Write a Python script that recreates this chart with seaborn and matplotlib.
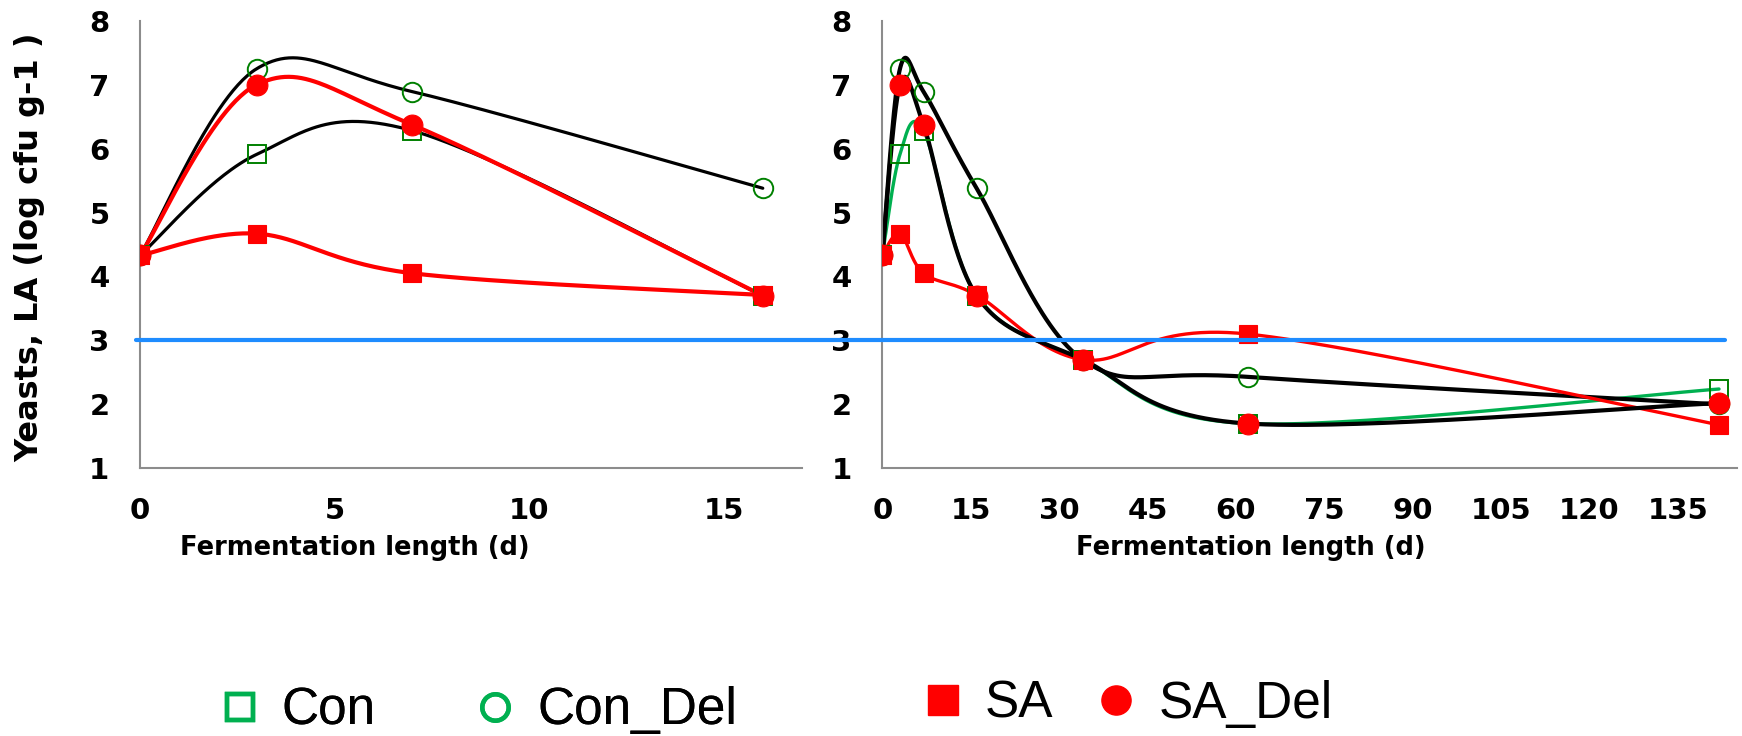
import numpy as np
import matplotlib
matplotlib.use("Agg")
import matplotlib.pyplot as plt
from matplotlib.lines import Line2D
from matplotlib.transforms import blended_transform_factory
import seaborn as sns

# Sampling days and viable yeast counts (log cfu/g) per treatment
days = [0, 3, 7, 16, 34, 62, 142]
con = [4.33, 5.91, 6.28, 3.70, 2.69, 1.70, 2.24]
con_del = [4.33, 7.25, 6.89, 5.38, 2.70, 2.43, 2.00]
sa = [4.33, 4.67, 4.05, 3.71, 2.70, 3.10, 1.68]
sa_del = [4.33, 7.00, 6.37, 3.70, 2.70, 1.70, 2.02]
series_names = ["Con", "Con_Del", "SA", "SA_Del"]

early_points = 4                      # the short-term panel shows the first four days
left_xticks = [0, 5, 10, 15]
right_xticks = list(range(0, 136, 15))
yticks = [1, 2, 3, 4, 5, 6, 7, 8]
detection_limit = 3.0
x_label = "Fermentation length (d)"
y_label = "Yeasts, LA (log cfu g-1 )"

sns.set_theme(style="white")
plt.rcParams["font.family"] = ["DejaVu Sans"]
plt.rcParams["text.color"] = "black"

GREEN_EDGE = "#008000"
GREEN_LINE = "#00B050"
RED = "#FF0000"
BLACK = "#000000"
AXIS_GRAY = "#8C8C8C"

fig = plt.figure(figsize=(17.42, 7.36), dpi=100)
ax_l = fig.add_axes([0.08037, 0.36372, 0.37985, 0.60815])
ax_r = fig.add_axes([0.50649, 0.36372, 0.49047, 0.60815])

ax_l.set_xlim(0, 17)
ax_r.set_xlim(0, 145)
for ax in (ax_l, ax_r):
    ax.set_ylim(1, 8)


def smooth_curve(ax, xs, ys, n=60):
    """Bezier smoothing (Catmull-Rom style) computed in display space."""
    pts = ax.transData.transform(np.column_stack([xs, ys]))
    P = np.vstack([pts[0], pts, pts[-1]])
    t = np.linspace(0, 1, n)[:, None]
    parts = []
    for i in range(1, len(P) - 2):
        p0, p1, p2, p3 = P[i - 1], P[i], P[i + 1], P[i + 2]
        c1 = p1 + (p2 - p0) / 6.0
        c2 = p2 - (p3 - p1) / 6.0
        seg = ((1 - t) ** 3) * p1 + 3 * (1 - t) ** 2 * t * c1 + 3 * (1 - t) * t ** 2 * c2 + t ** 3 * p2
        parts.append(seg if i == 1 else seg[1:])
    d = ax.transData.inverted().transform(np.vstack(parts))
    return d[:, 0], d[:, 1]


def draw_line(ax, xs, ys, color, lw, z):
    sx, sy = smooth_curve(ax, xs, ys)
    sns.lineplot(x=sx, y=sy, ax=ax, sort=False, estimator=None,
                 color=color, lw=lw, zorder=z)


def draw_markers(ax, xs, ys, marker, size, face, edge, mew, z):
    sns.lineplot(x=xs, y=ys, ax=ax, sort=False, estimator=None,
                 linestyle="", marker=marker, markersize=size,
                 mfc=face, mec=edge, mew=mew, color=edge, zorder=z)


values = {"Con": con, "Con_Del": con_del, "SA": sa, "SA_Del": sa_del}

# Short-term panel
n = early_points
line_style_l = {"Con": (BLACK, 2.3), "Con_Del": (BLACK, 2.3),
                "SA": (RED, 3.0), "SA_Del": (RED, 3.0)}
for k, name in enumerate(series_names):
    c, lw = line_style_l[name]
    draw_line(ax_l, days[:n], values[name][:n], c, lw, 2 + k * 0.1)

# Long-term panel
line_style_r = {"Con": (GREEN_LINE, 2.4), "Con_Del": (BLACK, 3.0),
                "SA": (RED, 2.4), "SA_Del": (BLACK, 3.0)}
for k, name in enumerate(series_names):
    c, lw = line_style_r[name]
    draw_line(ax_r, days, values[name], c, lw, 2 + k * 0.1)

marker_style = {
    "Con": ("s", 13, "none", GREEN_EDGE, 1.4),
    "Con_Del": ("o", 14, "none", GREEN_EDGE, 1.4),
    "SA": ("s", 13, RED, RED, 0.8),
    "SA_Del": ("o", 15, RED, RED, 0.8),
}
for ax, cnt in ((ax_l, n), (ax_r, len(days))):
    for k, name in enumerate(series_names):
        m, s, fc, ec, mew = marker_style[name]
        draw_markers(ax, days[:cnt], values[name][:cnt], m, s, fc, ec, mew, 5 + k * 0.1)

# Axes cosmetics
for ax, ticks in ((ax_l, left_xticks), (ax_r, right_xticks)):
    ax.set_xticks(ticks)
    ax.set_yticks(yticks)
    ax.grid(False)
    for side in ("top", "right"):
        ax.spines[side].set_visible(False)
    for side in ("left", "bottom"):
        ax.spines[side].set_color(AXIS_GRAY)
        ax.spines[side].set_linewidth(1.5)
    ax.tick_params(axis="both", direction="out", length=8, width=1.5,
                   color=AXIS_GRAY, labelsize=21, labelcolor="black")
    ax.tick_params(axis="x", pad=13)
    ax.tick_params(axis="y", pad=14)
    for lbl in ax.get_xticklabels() + ax.get_yticklabels():
        lbl.set_fontweight("bold")
    ax.set_xlabel("")
    ax.set_ylabel("")
    ax.patch.set_alpha(0)

fig.text(0.0172, 0.664, y_label, rotation=90, ha="center", va="center",
         fontsize=23, fontweight="bold", color="black")
fig.text(355 / 1742, 1 - 548 / 736, x_label, ha="center", va="center",
         fontsize=18.5, fontweight="bold", color="black")
fig.text(1251 / 1742, 1 - 548 / 736, x_label, ha="center", va="center",
         fontsize=18.5, fontweight="bold", color="black")

# Detection-limit line spanning both panels
trans = blended_transform_factory(fig.transFigure, ax_l.transData)
fig.add_artist(Line2D([136 / 1742, 1725 / 1742], [detection_limit, detection_limit],
                      transform=trans, color="#1E8CFF", lw=3.0, zorder=10))

# Legends
legend_font = {"family": ["Liberation Sans"], "size": 37}
h_con = Line2D([], [], linestyle="", marker="s", markersize=19, mfc="none",
               mec=GREEN_LINE, mew=3.2)
h_con_del = Line2D([], [], linestyle="", marker="o", markersize=19, mfc="none",
                   mec=GREEN_LINE, mew=3.2)
h_sa = Line2D([], [], linestyle="", marker="s", markersize=21, mfc=RED, mec=RED)
h_sa_del = Line2D([], [], linestyle="", marker="o", markersize=21, mfc=RED, mec=RED)

leg1 = fig.legend([h_con, h_con_del], series_names[:2], loc="center left",
                  bbox_to_anchor=(219 / 1742, 1 - 711 / 736), ncol=2, frameon=False,
                  prop=legend_font, handlelength=0.8, handletextpad=0.42,
                  columnspacing=1.92, borderpad=0, borderaxespad=0)
fig.add_artist(leg1)
leg2 = fig.legend([h_sa, h_sa_del], series_names[2:], loc="center left",
                  bbox_to_anchor=(922 / 1742, 1 - 704 / 736), ncol=2, frameon=False,
                  prop=legend_font, handlelength=0.8, handletextpad=0.42,
                  columnspacing=0.83, borderpad=0, borderaxespad=0)

fig.savefig("out.png", dpi=100)
